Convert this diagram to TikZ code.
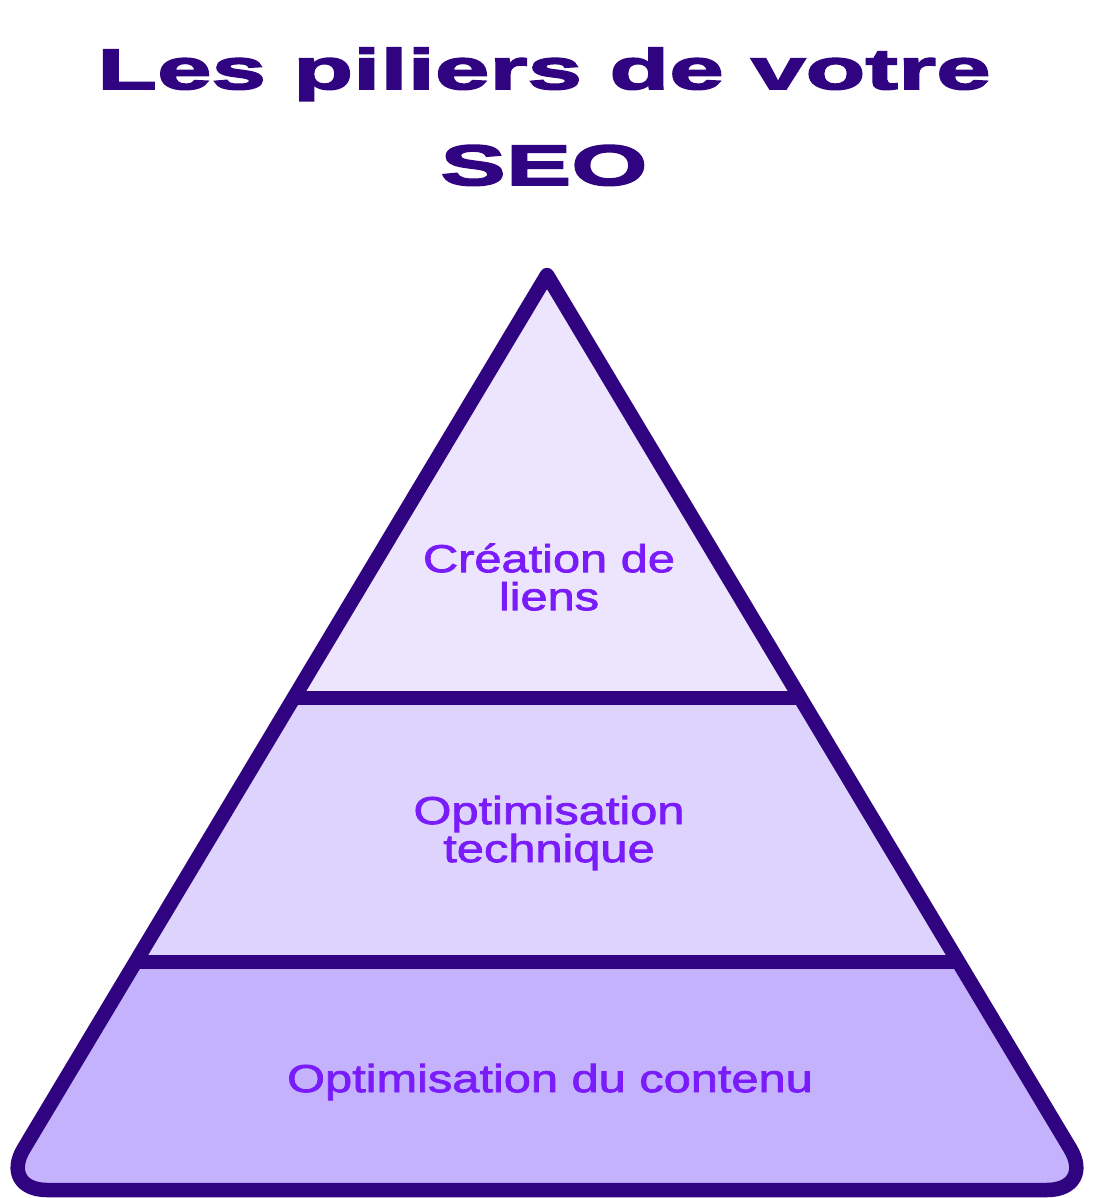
\documentclass[tikz,border=0pt]{standalone}
\usepackage{fontspec}
\newfontfamily\titlefont[FakeStretch=1.72,FakeBold=3.2]{Liberation Sans Bold}
\newfontfamily\labelfont[FakeStretch=1.25,FakeBold=2]{Liberation Sans}
\definecolor{ink}{HTML}{300380}
\definecolor{labelc}{HTML}{7A1CF9}
\definecolor{filltop}{HTML}{EDE5FE}
\definecolor{fillmid}{HTML}{DDD3FD}
\definecolor{fillbot}{HTML}{C4B2FD}
\begin{document}
\begin{tikzpicture}[x=1pt,y=-1pt,
  outline/.style={draw=ink,line width=14.5pt,line join=round},
  divider/.style={draw=ink,line width=14.5pt},
  label/.style={text=labelc,align=center,inner sep=0pt,font=\labelfont\fontsize{39}{38}\selectfont},
  title/.style={text=ink,align=center,inner sep=0pt,font=\titlefont\fontsize{57}{96}\selectfont}]
\useasboundingbox[fill=white] (0,0) rectangle (1095,1198);
\coordinate (apex) at (547,275);
\coordinate (bl) at (-1,1190);
\coordinate (br) at (1095,1190);
\coordinate (d1l) at (294,698);
\coordinate (d1r) at (800,698);
\coordinate (d2l) at (135,962);
\coordinate (d2r) at (959,962);
\begin{scope}
  \clip (apex) [rounded corners=48pt] -- (bl) -- (br) [sharp corners] -- cycle;
  \fill[fillbot] (0,0) rectangle (1095,1198);
  \fill[fillmid] (0,0) rectangle (1095,962);
  \fill[filltop] (0,0) rectangle (1095,698);
  \draw[divider] (d1l) -- (d1r);
  \draw[divider] (d2l) -- (d2r);
\end{scope}
\draw[outline] (apex) [rounded corners=48pt] -- (bl) -- (br) [sharp corners] -- cycle;
\node[title,anchor=base] (title) at (544,185) {Les piliers de votre\\SEO};
\node[label] (top) at (549,577) {Création de\\liens};
\node[label] (mid) at (549,833) {Optimisation\\technique};
\node[label] (bot) at (550,1082) {Optimisation du contenu};
\end{tikzpicture}
\end{document}
